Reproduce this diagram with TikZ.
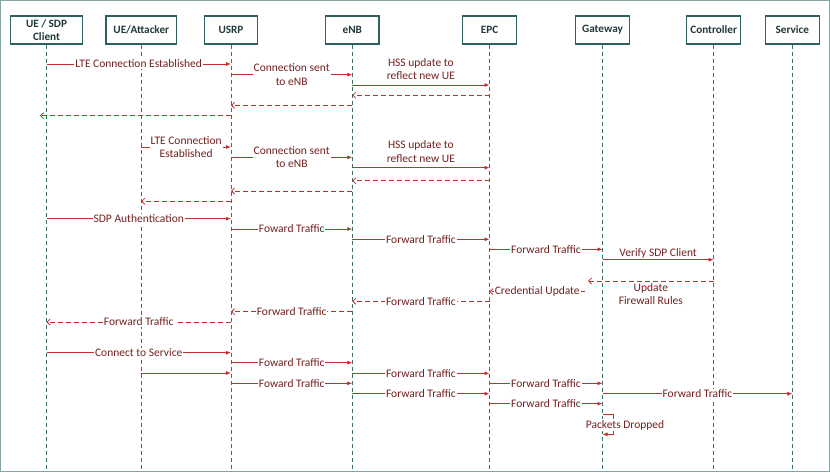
\documentclass[tikz,border=0pt]{standalone}
\usepackage{fontspec}
\setmainfont{Carlito}
\usetikzlibrary{arrows.meta}
\definecolor{framec}{HTML}{86A3A3}
\definecolor{boxc}{HTML}{2F6060}
\definecolor{boxtext}{HTML}{1F3838}
\definecolor{lifec}{HTML}{3F6E6E}
\definecolor{arrowc}{HTML}{C0302F}
\definecolor{labelc}{HTML}{742020}
\tikzset{
  actor/.style={draw=boxc, line width=1.1pt, minimum height=28pt, align=center,
    text=boxtext, font=\fontsize{11.2}{12.5}\selectfont\bfseries, inner sep=1pt},
  lifeline/.style={draw=lifec, line width=0.7pt, dash pattern=on 4pt off 3pt},
  msg/.style={draw=arrowc, line width=0.8pt, -{Latex[length=5pt,width=4pt]}},
  ret/.style={draw=arrowc, line width=0.8pt, dash pattern=on 5pt off 3pt,
    -{Straight Barb[length=3pt,width=6pt]}},
  lbl/.style={fill=white, inner sep=1pt, text=labelc, align=center,
    font=\fontsize{11.5}{13.5}\selectfont},
}
\begin{document}
\begin{tikzpicture}[x=1pt,y=-1pt]
\useasboundingbox (0,0) rectangle (830,472);
\draw[framec, line width=1.3pt] (0.7,0.7) rectangle (829.3,471.3);

% actors
\node[actor, minimum width=71.6pt] (ue)   at (46.5,30)  {UE / SDP\\Client};
\node[actor, minimum width=70.7pt] (att)  at (141.3,30) {UE/Attacker};
\node[actor, minimum width=53.4pt] (usrp) at (231,30)   {USRP};
\node[actor, minimum width=53.4pt] (enb)  at (352.3,30) {eNB};
\node[actor, minimum width=53.6pt] (epc)  at (489.5,30) {EPC};
\node[actor, minimum width=53.6pt] (gw)   at (602.5,30) {Gateway};
\node[actor, minimum width=54pt]   (ctl)  at (713.7,30) {Controller};
\node[actor, minimum width=54pt]   (srv)  at (792.3,30) {Service};

% lifelines
\foreach \n in {ue,att,usrp,enb,epc,gw,ctl,srv}{
  \draw[lifeline] (\n.south) -- (\n |- 0,470.5);
}

% block 1
\draw[msg] (ue |- 0,64) -- node[lbl]{LTE Connection Established} (usrp |- 0,64);
\draw[msg] (usrp |- 0,74.7) -- node[lbl]{Connection sent\\to eNB} (enb |- 0,74.7);
\draw[msg] (enb |- 0,85) -- node[lbl, above=4pt]{HSS update to\\reflect new UE} (epc |- 0,85);
\draw[ret] (epc |- 0,95.3) -- (enb |- 0,95.3);
\draw[ret] (enb |- 0,105.3) -- (usrp |- 0,105.3);
\coordinate (ueend) at (40,115.7);
\draw[ret] (usrp |- 0,115.7) -- (ueend);

% block 2
\draw[msg] (att |- 0,147) -- node[lbl]{LTE Connection\\Established} (usrp |- 0,147);
\draw[msg] (usrp |- 0,157.3) -- node[lbl]{Connection sent\\to eNB} (enb |- 0,157.3);
\draw[msg] (enb |- 0,167.7) -- node[lbl, above=4pt]{HSS update to\\reflect new UE} (epc |- 0,167.7);
\draw[ret] (epc |- 0,180.7) -- (enb |- 0,180.7);
\draw[ret] (enb |- 0,191) -- (usrp |- 0,191);
\draw[ret] (usrp |- 0,201.3) -- (att |- 0,201.3);

% authentication
\draw[msg] (ue |- 0,218.7) -- node[lbl]{SDP Authentication} (usrp |- 0,218.7);
\draw[msg] (usrp |- 0,229) -- node[lbl]{Foward Traffic} (enb |- 0,229);
\draw[msg] (enb |- 0,239.3) -- node[lbl]{Forward Traffic} (epc |- 0,239.3);
\draw[msg] (epc |- 0,249.3) -- node[lbl]{Forward Traffic} (gw |- 0,249.3);
\draw[msg] (gw |- 0,259.7) -- node[lbl, above=0pt]{Verify SDP Client} (ctl |- 0,259.7);
\coordinate (gwu) at (588,281);
\draw[ret] (ctl |- 0,281) -- node[lbl, below=1pt]{Update\\Firewall Rules} (gwu);
\coordinate (gwc) at (585,291.7);
\draw[ret] (gwc) -- node[lbl]{Credential Update} (epc |- 0,291.7);
\draw[ret] (epc |- 0,301.3) -- node[lbl]{Forward Traffic} (enb |- 0,301.3);
\draw[ret] (enb |- 0,311.7) -- node[lbl]{Forward Traffic} (usrp |- 0,311.7);
\draw[ret] (usrp |- 0,322) -- node[lbl]{Forward Traffic} (ue |- 0,322);

% service
\draw[msg] (ue |- 0,352.7) -- node[lbl]{Connect to Service} (usrp |- 0,352.7);
\draw[msg] (usrp |- 0,362.7) -- node[lbl]{Foward Traffic} (enb |- 0,362.7);
\draw[msg] (att |- 0,373) -- (usrp |- 0,373);
\draw[msg] (enb |- 0,373.3) -- node[lbl]{Forward Traffic} (epc |- 0,373.3);
\draw[msg] (usrp |- 0,383.3) -- node[lbl]{Foward Traffic} (enb |- 0,383.3);
\draw[msg] (epc |- 0,383.3) -- node[lbl]{Forward Traffic} (gw |- 0,383.3);
\draw[msg] (enb |- 0,393.7) -- node[lbl]{Forward Traffic} (epc |- 0,393.7);
\draw[msg] (gw |- 0,393.7) -- node[lbl]{Forward Traffic} (srv |- 0,393.7);
\draw[msg] (epc |- 0,403.7) -- node[lbl]{Forward Traffic} (gw |- 0,403.7);

% self message
\draw[msg] (gw |- 0,414) -- ++(11,0) -- ++(0,20.3) -- (gw |- 0,434.3);
\node[lbl] (drop) at (625,425.3) {Packets Dropped};
\end{tikzpicture}
\end{document}
